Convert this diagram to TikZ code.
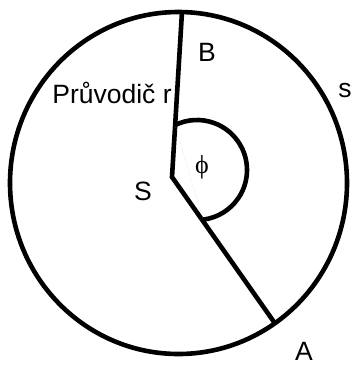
\documentclass[tikz,border=0pt]{standalone}
\usepackage{fontspec}
\setmainfont{Liberation Sans}
\newfontfamily\greekserif{Liberation Serif}
\usetikzlibrary{positioning,calc}

\begin{document}
\begin{tikzpicture}[
  x=1pt,y=-1pt,
  thick line/.style={line width=4.6pt},
  lbl/.style={font=\fontsize{26.5}{30}\selectfont,inner sep=0pt,anchor=base},
  chord/.style={line width=0.4pt,draw=black!30,dotted}
]
\useasboundingbox (0,0) rectangle (351,365);
% the circle s
\draw[thick line] (178.5,183) ellipse[x radius=168.5,y radius=171];
% points
\coordinate (S) at (172,177);
\coordinate (B) at (182,12);
\coordinate (A) at (274,322);
\coordinate (phiC) at (197,170);
\coordinate (phiB) at ($(phiC)+(-116:50)$);
\coordinate (phiA) at ($(phiC)+(83:50)$);
% radius vectors
\draw[thick line] (B) -- (S) -- (A);
% angle
\draw[chord] (phiB) -- (phiA);
\draw[thick line] (phiB) arc[start angle=-116,end angle=83,radius=50];
% labels
\node[lbl] (lB) at (207,61) {B};
\node[lbl] (lr) at (112,103) {Průvodič r};
\node[lbl] (ls) at (345,97) {s};
\node[lbl] (lS) at (143,200) {S};
\node[font=\fontsize{26}{30}\greekserif,inner sep=0pt] (lphi) at (202,167) {ϕ};
\node[lbl] (lA) at (304,360) {A};
\end{tikzpicture}
\end{document}
